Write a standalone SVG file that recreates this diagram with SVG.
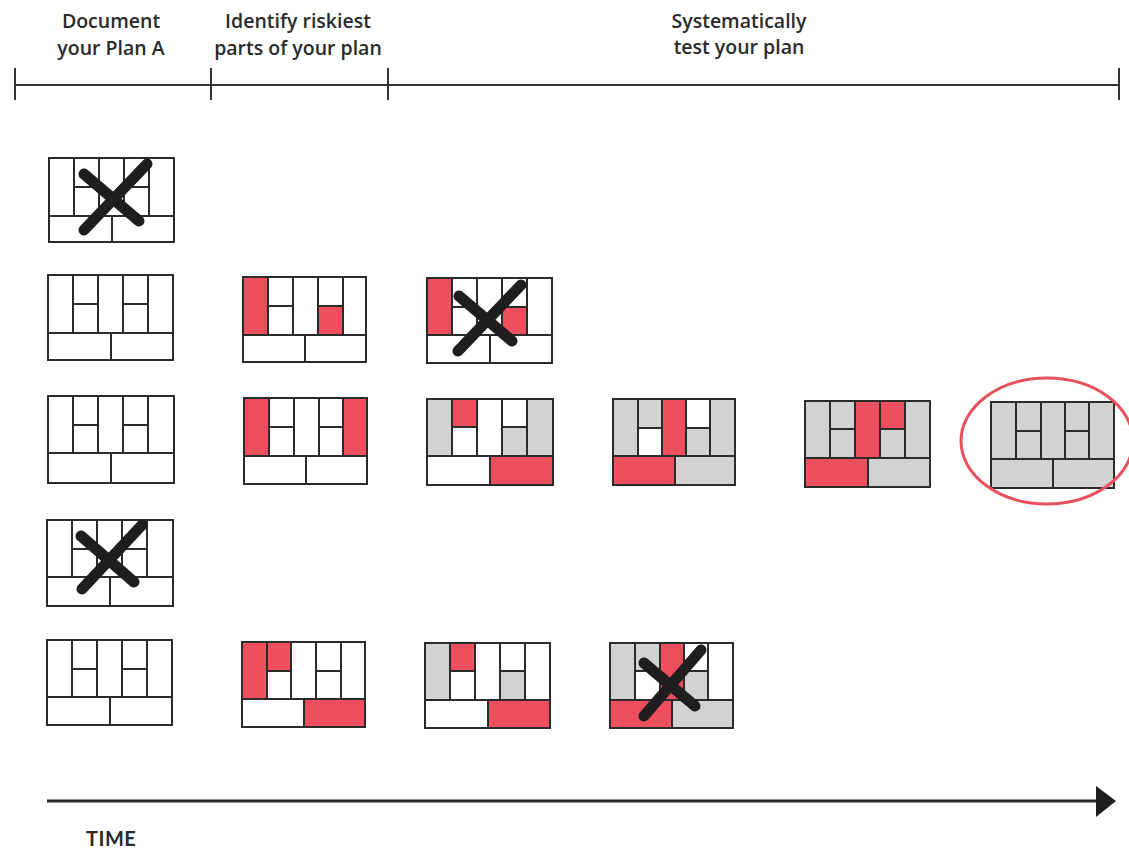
<svg xmlns="http://www.w3.org/2000/svg" width="1129" height="851" viewBox="0 0 1129 851">
<style>
.t{font-family:"Open Sans",Lato,"Liberation Sans",sans-serif;font-weight:600;font-size:19.5px;fill:#2a2a2a;text-anchor:middle}
.c rect{stroke:#2b2b2b;stroke-width:2;stroke-linejoin:miter}
.w{fill:#ffffff}.r{fill:#ee4f5f}.g{fill:#d1d2d4}
.x{stroke:#1e1e1e;stroke-width:11;stroke-linecap:round;fill:none}
.ax{stroke:#333;stroke-width:2;fill:none}
</style>
<rect width="1129" height="851" fill="#ffffff"/>
<g id="headers">
<text class="t" x="111" y="28">Document</text>
<text class="t" x="111" y="55">your Plan A</text>
<text class="t" x="298" y="28">Identify riskiest</text>
<text class="t" x="298" y="55">parts of your plan</text>
<text class="t" x="739" y="28">Systematically</text>
<text class="t" x="739" y="54">test your plan</text>
</g>
<g id="connectors">
<line class="ax" x1="15" y1="85" x2="1119" y2="85"/>
<line class="ax" x1="15" y1="68" x2="15" y2="100"/>
<line class="ax" x1="211" y1="68" x2="211" y2="100"/>
<line class="ax" x1="388" y1="68" x2="388" y2="100"/>
<line class="ax" x1="1119" y1="68" x2="1119" y2="100"/>
<line x1="47" y1="801" x2="1098" y2="801" stroke="#2a2a2a" stroke-width="3"/>
<polygon points="1096,786 1116,801 1096,817" fill="#1e1e1e"/>
</g>
<text id="time" x="86" y="846" style="font-family:Lato,'Liberation Sans',sans-serif;font-weight:700;font-size:20px;letter-spacing:0.5px;fill:#2a2a2a">TIME</text>

<g id="r1c1" class="c" transform="translate(49,158)">
<rect class="w" x="0" y="0" width="25" height="58"/><rect class="w" x="25" y="0" width="25" height="29"/><rect class="w" x="25" y="29" width="25" height="29"/><rect class="w" x="50" y="0" width="25" height="58"/><rect class="w" x="75" y="0" width="25" height="29"/><rect class="w" x="75" y="29" width="25" height="29"/><rect class="w" x="100" y="0" width="25" height="58"/><rect class="w" x="0" y="58" width="63" height="26"/><rect class="w" x="63" y="58" width="62" height="26"/>
</g>
<g id="r2c1" class="c" transform="translate(48,275)">
<rect class="w" x="0" y="0" width="25" height="58"/><rect class="w" x="25" y="0" width="25" height="29"/><rect class="w" x="25" y="29" width="25" height="29"/><rect class="w" x="50" y="0" width="25" height="58"/><rect class="w" x="75" y="0" width="25" height="29"/><rect class="w" x="75" y="29" width="25" height="29"/><rect class="w" x="100" y="0" width="25" height="58"/><rect class="w" x="0" y="58" width="63" height="27"/><rect class="w" x="63" y="58" width="62" height="27"/>
</g>
<g id="r2c2" class="c" transform="translate(243,277)">
<rect class="r" x="0" y="0" width="25" height="58"/><rect class="w" x="25" y="0" width="25" height="29"/><rect class="w" x="25" y="29" width="25" height="29"/><rect class="w" x="50" y="0" width="25" height="58"/><rect class="w" x="75" y="0" width="25" height="29"/><rect class="r" x="75" y="29" width="25" height="29"/><rect class="w" x="100" y="0" width="23" height="58"/><rect class="w" x="0" y="58" width="62" height="27"/><rect class="w" x="62" y="58" width="61" height="27"/>
</g>
<g id="r2c3" class="c" transform="translate(427,278)">
<rect class="r" x="0" y="0" width="25" height="57"/><rect class="w" x="25" y="0" width="25" height="29"/><rect class="w" x="25" y="29" width="25" height="28"/><rect class="w" x="50" y="0" width="25" height="57"/><rect class="w" x="75" y="0" width="25" height="29"/><rect class="r" x="75" y="29" width="25" height="28"/><rect class="w" x="100" y="0" width="25" height="57"/><rect class="w" x="0" y="57" width="63" height="28"/><rect class="w" x="63" y="57" width="62" height="28"/>
</g>
<g id="r3c1" class="c" transform="translate(48,396)">
<rect class="w" x="0" y="0" width="25" height="57"/><rect class="w" x="25" y="0" width="25" height="29"/><rect class="w" x="25" y="29" width="25" height="28"/><rect class="w" x="50" y="0" width="25" height="57"/><rect class="w" x="75" y="0" width="25" height="29"/><rect class="w" x="75" y="29" width="25" height="28"/><rect class="w" x="100" y="0" width="26" height="57"/><rect class="w" x="0" y="57" width="63" height="30"/><rect class="w" x="63" y="57" width="63" height="30"/>
</g>
<g id="r3c2" class="c" transform="translate(244,398)">
<rect class="r" x="0" y="0" width="25" height="58"/><rect class="w" x="25" y="0" width="25" height="29"/><rect class="w" x="25" y="29" width="25" height="29"/><rect class="w" x="50" y="0" width="25" height="58"/><rect class="w" x="75" y="0" width="24" height="29"/><rect class="w" x="75" y="29" width="24" height="29"/><rect class="r" x="99" y="0" width="24" height="58"/><rect class="w" x="0" y="58" width="62" height="28"/><rect class="w" x="62" y="58" width="61" height="28"/>
</g>
<g id="r3c3" class="c" transform="translate(427,399)">
<rect class="g" x="0" y="0" width="25" height="57"/><rect class="r" x="25" y="0" width="25" height="28"/><rect class="w" x="25" y="28" width="25" height="29"/><rect class="w" x="50" y="0" width="25" height="57"/><rect class="w" x="75" y="0" width="25" height="28"/><rect class="g" x="75" y="28" width="25" height="29"/><rect class="g" x="100" y="0" width="26" height="57"/><rect class="w" x="0" y="57" width="63" height="29"/><rect class="r" x="63" y="57" width="63" height="29"/>
</g>
<g id="r3c4" class="c" transform="translate(613,399)">
<rect class="g" x="0" y="0" width="25" height="57"/><rect class="g" x="25" y="0" width="24" height="29"/><rect class="w" x="25" y="29" width="24" height="28"/><rect class="r" x="49" y="0" width="24" height="57"/><rect class="w" x="73" y="0" width="24" height="29"/><rect class="g" x="73" y="29" width="24" height="28"/><rect class="g" x="97" y="0" width="25" height="57"/><rect class="r" x="0" y="57" width="62" height="29"/><rect class="g" x="62" y="57" width="60" height="29"/>
</g>
<g id="r3c5" class="c" transform="translate(805,401)">
<rect class="g" x="0" y="0" width="25" height="57"/><rect class="g" x="25" y="0" width="25" height="28"/><rect class="g" x="25" y="28" width="25" height="29"/><rect class="r" x="50" y="0" width="25" height="57"/><rect class="r" x="75" y="0" width="25" height="28"/><rect class="g" x="75" y="28" width="25" height="29"/><rect class="g" x="100" y="0" width="25" height="57"/><rect class="r" x="0" y="57" width="63" height="29"/><rect class="g" x="63" y="57" width="62" height="29"/>
</g>
<g id="r3c6" class="c" transform="translate(991,402)">
<rect class="g" x="0" y="0" width="25" height="57"/><rect class="g" x="25" y="0" width="25" height="29"/><rect class="g" x="25" y="29" width="25" height="28"/><rect class="g" x="50" y="0" width="24" height="57"/><rect class="g" x="74" y="0" width="24" height="29"/><rect class="g" x="74" y="29" width="24" height="28"/><rect class="g" x="98" y="0" width="25" height="57"/><rect class="g" x="0" y="57" width="62" height="29"/><rect class="g" x="62" y="57" width="61" height="29"/>
</g>
<g id="r4c1" class="c" transform="translate(47,520)">
<rect class="w" x="0" y="0" width="25" height="57"/><rect class="w" x="25" y="0" width="25" height="29"/><rect class="w" x="25" y="29" width="25" height="28"/><rect class="w" x="50" y="0" width="25" height="57"/><rect class="w" x="75" y="0" width="25" height="29"/><rect class="w" x="75" y="29" width="25" height="28"/><rect class="w" x="100" y="0" width="26" height="57"/><rect class="w" x="0" y="57" width="63" height="29"/><rect class="w" x="63" y="57" width="63" height="29"/>
</g>
<g id="r5c1" class="c" transform="translate(47,640)">
<rect class="w" x="0" y="0" width="25" height="57"/><rect class="w" x="25" y="0" width="25" height="29"/><rect class="w" x="25" y="29" width="25" height="28"/><rect class="w" x="50" y="0" width="25" height="57"/><rect class="w" x="75" y="0" width="25" height="29"/><rect class="w" x="75" y="29" width="25" height="28"/><rect class="w" x="100" y="0" width="25" height="57"/><rect class="w" x="0" y="57" width="63" height="28"/><rect class="w" x="63" y="57" width="62" height="28"/>
</g>
<g id="r5c2" class="c" transform="translate(242,642)">
<rect class="r" x="0" y="0" width="25" height="57"/><rect class="r" x="25" y="0" width="24" height="29"/><rect class="w" x="25" y="29" width="24" height="28"/><rect class="w" x="49" y="0" width="25" height="57"/><rect class="w" x="74" y="0" width="25" height="29"/><rect class="w" x="74" y="29" width="25" height="28"/><rect class="w" x="99" y="0" width="24" height="57"/><rect class="w" x="0" y="57" width="62" height="28"/><rect class="r" x="62" y="57" width="61" height="28"/>
</g>
<g id="r5c3" class="c" transform="translate(425,643)">
<rect class="g" x="0" y="0" width="25" height="57"/><rect class="r" x="25" y="0" width="25" height="28"/><rect class="w" x="25" y="28" width="25" height="29"/><rect class="w" x="50" y="0" width="25" height="57"/><rect class="w" x="75" y="0" width="25" height="28"/><rect class="g" x="75" y="28" width="25" height="29"/><rect class="w" x="100" y="0" width="25" height="57"/><rect class="w" x="0" y="57" width="63" height="28"/><rect class="r" x="63" y="57" width="62" height="28"/>
</g>
<g id="r5c4" class="c" transform="translate(610,643)">
<rect class="g" x="0" y="0" width="25" height="57"/><rect class="g" x="25" y="0" width="25" height="28"/><rect class="w" x="25" y="28" width="25" height="29"/><rect class="r" x="50" y="0" width="24" height="57"/><rect class="w" x="74" y="0" width="24" height="28"/><rect class="g" x="74" y="28" width="24" height="29"/><rect class="w" x="98" y="0" width="25" height="57"/><rect class="r" x="0" y="57" width="62" height="28"/><rect class="g" x="62" y="57" width="61" height="28"/>
</g>

<g id="crosses">
<line class="x" x1="84" y1="230" x2="147" y2="164"/><line class="x" x1="84" y1="174" x2="139" y2="221"/>
<line class="x" x1="458" y1="351" x2="521" y2="285"/><line class="x" x1="459" y1="296" x2="512" y2="341"/>
<line class="x" x1="82" y1="589" x2="142" y2="525"/><line class="x" x1="81" y1="536" x2="134" y2="582"/>
<line class="x" x1="644" y1="716" x2="701" y2="650"/><line class="x" x1="644" y1="663" x2="695" y2="706"/>
</g>
<ellipse id="goal" cx="1047" cy="441" rx="86" ry="63" fill="none" stroke="#e8505e" stroke-width="3"/>
</svg>
